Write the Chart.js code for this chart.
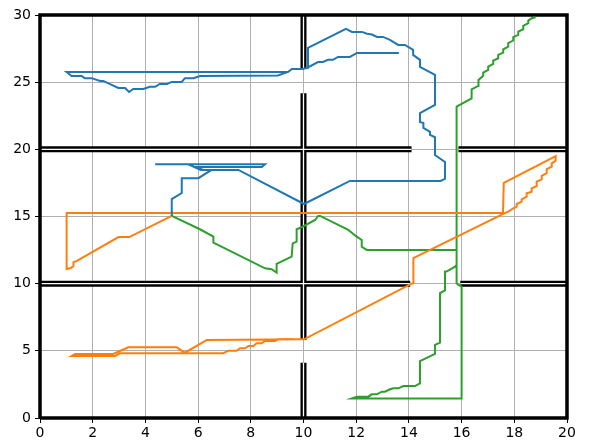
<!DOCTYPE html>
<html>
<head>
<meta charset="utf-8">
<script src="https://cdn.jsdelivr.net/npm/chart.js@4.4.0/dist/chart.umd.min.js"></script>
<style>
  body { margin: 0; background: #fff; }
</style>
</head>
<body>
<canvas id="myChart" width="591" height="446"></canvas>
<script>
// paths (x, y in grid units)
const blueX = [5.0, 5.0, 5.38, 5.38, 6.01, 6.51, 6.1, 5.63, 4.37, 8.54, 8.42, 5.9, 6.2, 7.53, 10.02, 11.76, 15.2, 15.37, 15.37, 14.99,
  14.99, 14.8, 14.8, 14.55, 14.55, 14.42, 14.42, 14.99, 14.99, 14.42, 14.42, 14.16, 14.16, 13.85, 13.59, 13.28, 13.02, 12.79, 12.6, 12.41,
  12.22, 11.84, 11.61, 10.17, 10.17, 9.94, 9.56, 9.41, 1.01, 1.2, 1.58, 1.7, 1.96, 2.28, 2.4, 2.97, 3.23, 3.38, 3.54, 3.92,
  4.17, 4.37, 4.55, 4.82, 5.0, 5.38, 5.5, 5.82, 6.07, 9.03, 9.41, 9.56, 9.94, 10.13, 10.55, 10.74, 10.93, 11.12, 11.31, 11.76,
  12.03, 13.62];
const blueY = [15.04, 16.3, 16.75, 17.85, 17.85, 18.47, 18.47, 18.89, 18.89, 18.89, 18.68, 18.68, 18.47, 18.47, 15.93, 17.65, 17.65, 17.8, 19.06, 19.58,
  20.9, 21.07, 21.3, 21.6, 21.96, 22.04, 22.7, 23.3, 25.54, 26.14, 26.66, 27.03, 27.4, 27.77, 27.77, 28.15, 28.37, 28.37, 28.55, 28.6,
  28.74, 28.74, 28.97, 27.55, 26.06, 25.98, 25.98, 25.76, 25.76, 25.46, 25.46, 25.3, 25.3, 25.09, 25.09, 24.57, 24.57, 24.27, 24.5, 24.5,
  24.65, 24.65, 24.87, 24.87, 25.02, 25.02, 25.3, 25.3, 25.46, 25.5, 25.76, 25.98, 25.98, 26.06, 26.5, 26.5, 26.66, 26.66, 26.88, 26.88,
  27.18, 27.18];

const orangeX = [5.0, 3.39, 2.98, 1.4, 1.27, 1.27, 1.15, 1.01, 1.01, 17.57, 17.6, 19.57, 19.57, 19.42, 19.42, 19.23, 19.23, 19.04, 19.04, 18.85,
  18.85, 18.66, 18.66, 18.47, 18.47, 18.28, 18.28, 18.09, 18.09, 17.96, 17.77, 17.58, 14.17, 14.17, 14.1, 10.02, 6.33, 5.5, 5.19, 3.35,
  2.78, 1.33, 1.2, 2.85, 3.04, 6.96, 7.15, 7.46, 7.59, 7.78, 7.91, 8.1, 8.22, 8.41, 8.54, 8.92, 9.04, 9.6];
const orangeY = [15.04, 13.47, 13.47, 11.7, 11.6, 11.3, 11.15, 11.09, 15.26, 15.26, 17.5, 19.5, 19.16, 18.96, 18.72, 18.52, 18.22, 18.02, 17.77, 17.6,
  17.27, 17.1, 16.85, 16.73, 16.48, 16.28, 16.1, 15.93, 15.73, 15.61, 15.36, 15.19, 11.9, 10.03, 10.0, 5.86, 5.81, 4.86, 5.26, 5.26,
  4.77, 4.77, 4.62, 4.62, 4.82, 4.82, 5.01, 5.01, 5.19, 5.19, 5.36, 5.36, 5.56, 5.56, 5.73, 5.73, 5.86, 5.86];

const greenX = [5.0, 6.07, 6.58, 6.58, 8.54, 8.79, 8.98, 8.98, 9.55, 9.59, 9.74, 9.74, 9.93, 10.44, 10.56, 10.63, 11.7, 11.89, 12.02, 12.21,
  12.21, 12.4, 15.81, 15.81, 15.88, 16.0, 16.0, 11.83, 12.02, 12.46, 12.59, 12.78, 12.97, 13.09, 13.28, 13.41, 13.6, 13.79, 14.23, 14.42,
  14.42, 14.99, 14.99, 15.18, 15.18, 15.37, 15.37, 15.43, 15.75, 15.81, 15.81, 16.38, 16.38, 16.63, 16.64, 16.82, 16.82, 17.01, 17.01, 17.2,
  17.2, 17.39, 17.39, 17.58, 17.58, 17.77, 17.77, 17.96, 17.96, 18.15, 18.15, 18.34, 18.34, 18.53, 18.53, 18.66, 18.81];
const greenY = [15.04, 14.05, 13.5, 13.05, 11.14, 11.07, 10.82, 11.47, 12.01, 13.0, 13.13, 14.05, 14.2, 14.74, 15.04, 15.04, 14.0, 13.7, 13.5, 13.25,
  12.75, 12.51, 12.51, 10.03, 9.9, 9.78, 1.46, 1.46, 1.59, 1.59, 1.76, 1.76, 1.96, 1.96, 2.14, 2.21, 2.21, 2.38, 2.38, 2.58,
  4.24, 4.77, 5.44, 5.61, 9.3, 9.5, 10.9, 10.9, 11.27, 11.4, 23.18, 23.8, 24.47, 24.72, 25.17, 25.47, 25.71, 25.91, 26.16, 26.36,
  26.61, 26.78, 27.03, 27.2, 27.45, 27.65, 27.9, 28.1, 28.35, 28.52, 28.77, 28.94, 29.19, 29.39, 29.58, 29.76, 29.83];

// walls: [x1, y1, x2, y2]
const frameX = [0, 20, 20, 0, 0];
const frameY = [0, 0, 30, 30, 0];
const walls = [
  [0, 20, 14.1, 20], [15.88, 20, 20, 20],
  [0, 10, 14.05, 10], [15.95, 10, 20, 10],
  [10, 30, 10, 26.0], [10, 24.18, 10, 5.8], [10, 4.12, 10, 0]
];

const xTicks = [0, 2, 4, 6, 8, 10, 12, 14, 16, 18, 20];
const yTicks = [0, 5, 10, 15, 20, 25, 30];

function toPoints(xs, ys) {
  return xs.map((x, i) => ({ x: x, y: ys[i] }))
}

function pathSet(xs, ys, color) {
  return {
    data: toPoints(xs, ys),
    showLine: true,
    borderColor: color,
    borderWidth: 2,
    pointRadius: 0,
    fill: false,
    clip: false,
    order: 1
  }
}

let datasets = [
  pathSet(blueX, blueY, '#1f77b4'),
  pathSet(orangeX, orangeY, '#ff7f0e'),
  pathSet(greenX, greenY, '#2ca02c')
];

// wall outlines: black thick line with a thin white stripe
walls.forEach(w => {
  const pts = [{ x: w[0], y: w[1] }, { x: w[2], y: w[3] }];
  datasets.push({ data: pts, showLine: true, borderColor: '#000', borderWidth: 6, pointRadius: 0, clip: false, order: 20 });
  datasets.push({ data: pts, showLine: true, borderColor: '#fff', borderWidth: 1.3, pointRadius: 0, clip: false, order: 15 });
});
datasets.push({ data: toPoints(frameX, frameY), showLine: true, borderColor: '#000', borderWidth: 3.5,
  pointRadius: 0, clip: false, order: 10, borderJoinStyle: 'miter' });

const ctx = document.getElementById('myChart').getContext('2d');
const myChart = new Chart(ctx, {
  type: 'scatter',
  data: { datasets: datasets },
  options: {
    responsive: false,
    animation: false,
    events: [],
    layout: { padding: { left: 0, top: 15, right: 24, bottom: 0 } },
    plugins: { legend: { display: false }, tooltip: { enabled: false } },
    scales: {
      x: {
        type: 'linear', min: 0, max: 20,
        afterFit: s => { s.height = 28 },
        afterBuildTicks: s => { s.ticks = xTicks.map(v => ({ value: v })) },
        grid: { color: '#b0b0b0', lineWidth: 1, tickColor: '#000', tickLength: 5 },
        border: { color: '#000', width: 1 },
        ticks: { color: '#000', padding: 2, maxRotation: 0, font: { family: 'DejaVu Sans', size: 14 } }
      },
      y: {
        type: 'linear', min: 0, max: 30,
        afterFit: s => { s.width = 40 },
        afterBuildTicks: s => { s.ticks = yTicks.map(v => ({ value: v })) },
        grid: { color: '#b0b0b0', lineWidth: 1, tickColor: '#000', tickLength: 5 },
        border: { color: '#000', width: 1 },
        ticks: { color: '#000', padding: 4, font: { family: 'DejaVu Sans', size: 14 } }
      }
    }
  }
});
</script>
</body>
</html>
